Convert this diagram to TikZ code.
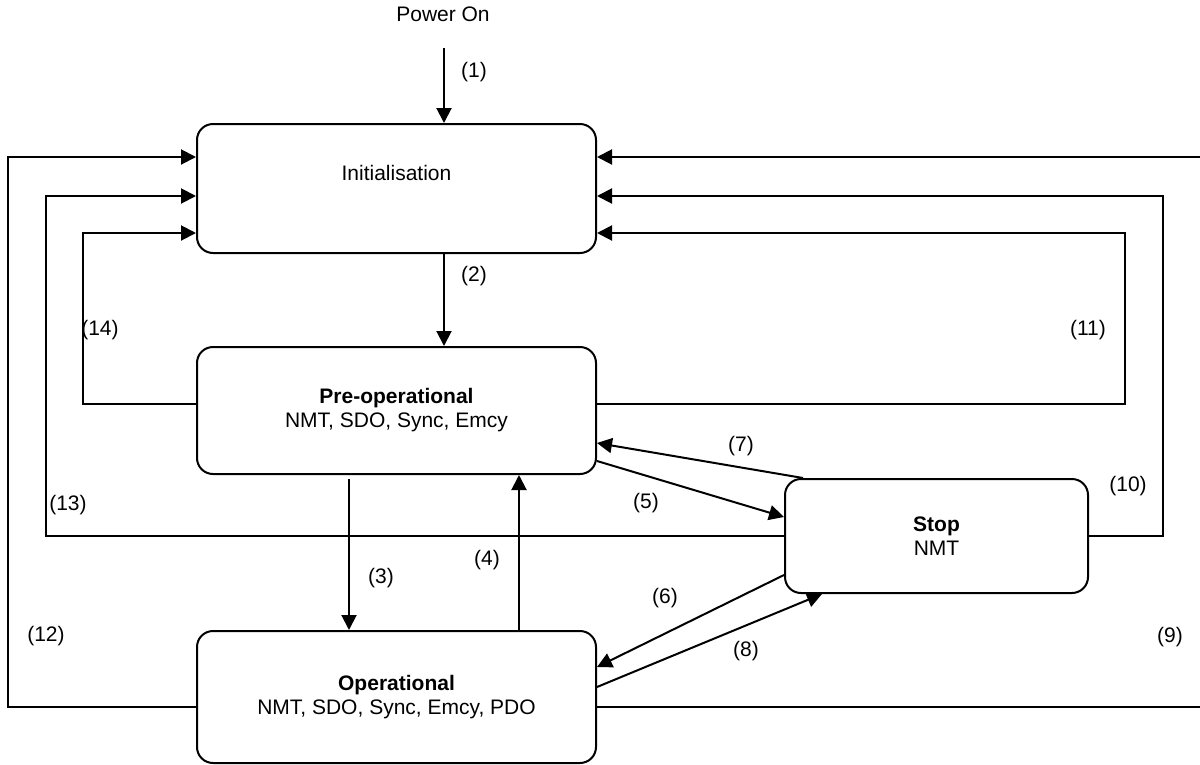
\documentclass[tikz,border=0pt]{standalone}
\usepackage{fontspec}
\setmainfont{Liberation Sans}
\usetikzlibrary{arrows.meta}
\begin{document}
\begin{tikzpicture}[x=1pt,y=-1pt,
  state/.style={draw, line width=2pt, rounded corners=16pt, inner sep=0pt, align=center, font=\fontsize{21}{24}\selectfont},
  lbl/.style={font=\fontsize{21}{24}\selectfont, inner sep=0pt},
  conn/.style={line width=2pt, line join=miter},
  arr/.style={conn, -{Triangle[length=15pt,width=15pt]}}]
\useasboundingbox (0,0) rectangle (1200,764);
\clip (0,0) rectangle (1200,764);

% states
\node[state, minimum width=399pt, minimum height=129pt] (init) at (396.5,188.5) {\raisebox{16pt}[\height][\depth]{Initialisation}};
\node[state, minimum width=399pt, minimum height=127pt] (pre) at (396.5,410.5) {\textbf{Pre-operational}\\NMT, SDO, Sync, Emcy};
\node[state, minimum width=399pt, minimum height=132pt] (op) at (396.5,697) {\textbf{Operational}\\NMT, SDO, Sync, Emcy, PDO};
\node[state, minimum width=303pt, minimum height=114pt] (stop) at (936.5,536) {\textbf{Stop}\\NMT};

\node[lbl] (poweron) at (443,14) {Power On};
\coordinate (pstart) at (444,48);
\coordinate (s3) at (349,479);

% vertical transitions
\draw[arr] (pstart) -- (init.north -| pstart);
\draw[arr] (init.south -| pstart) -- (pre.north -| pstart);
\draw[arr] (s3) -- (op.north -| s3);
\draw[arr] (op.north -| 519,0) -- (pre.south -| 519,0);

% left loops
\draw[arr] (op.west |- 0,707) -- (8,707) -- (8,157) -- (init.west |- 0,157);
\draw[arr] (stop.west) -- (46,536) -- (46,196) -- (init.west |- 0,196);
\draw[arr] (pre.west |- 0,404) -- (83,404) -- (83,233) -- (init.west |- 0,233);

% right loops
\draw[arr] (op.east |- 0,707) -- (1215,707) -- (1215,157) -- (init.east |- 0,157);
\draw[arr] (stop.east) -- (1163,536) -- (1163,196) -- (init.east |- 0,196);
\draw[arr] (pre.east |- 0,404) -- (1125,404) -- (1125,233) -- (init.east |- 0,233);

% diagonal transitions
\draw[arr] (pre.east |- 0,461) -- (stop.west |- 0,517);
\draw[arr] (stop.north -| 803,0) -- (pre.east |- 0,443);
\draw[arr] (stop.west |- 0,575) -- (op.east |- 0,667);
\draw[arr] (op.east |- 0,687) -- (stop.south -| 822,0);

% labels
\node[lbl] (l1) at (474,72) {(1)};
\node[lbl] (l2) at (474,276) {(2)};
\node[lbl] (l3) at (381,578) {(3)};
\node[lbl] (l4) at (487,560) {(4)};
\node[lbl] (l5) at (646,503) {(5)};
\node[lbl] (l6) at (665,598) {(6)};
\node[lbl] (l7) at (741,446) {(7)};
\node[lbl] (l8) at (746,651) {(8)};
\node[lbl] (l9) at (1170,637) {(9)};
\node[lbl] (l10) at (1128,486) {(10)};
\node[lbl] (l11) at (1088,330) {(11)};
\node[lbl] (l12) at (46,636) {(12)};
\node[lbl] (l13) at (68,505) {(13)};
\node[lbl] (l14) at (100,330) {(14)};
\end{tikzpicture}
\end{document}
